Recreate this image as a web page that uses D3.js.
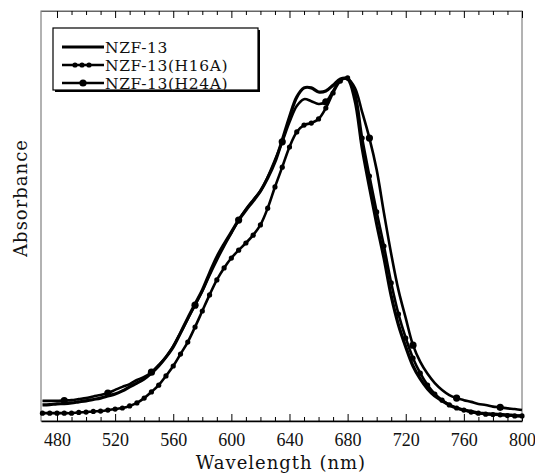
<!DOCTYPE html>
<html>
<head>
<meta charset="utf-8">
<script src="https://cdn.jsdelivr.net/npm/d3@7"></script>
<style>
  body { margin: 0; background: #fff; }
  text { font-family: "DejaVu Serif", "Liberation Serif", serif; fill: #111; }
</style>
</head>
<body>
<svg id="chart"></svg>
<script>
// wavelengths (nm), 470..800 every 5 nm
const wavelengths = d3.range(470, 801, 5);

const nzf13 = [0.047, 0.048, 0.050, 0.051, 0.053, 0.056, 0.059, 0.063, 0.067, 0.073,
  0.079, 0.088, 0.100, 0.111, 0.123, 0.140, 0.161, 0.187, 0.217, 0.258,
  0.301, 0.342, 0.383, 0.433, 0.480, 0.518, 0.553, 0.588, 0.617, 0.644,
  0.673, 0.711, 0.758, 0.822, 0.890, 0.948, 0.975, 0.975, 0.963, 0.966,
  0.983, 1.001, 1.001, 0.939, 0.799, 0.685, 0.577, 0.477, 0.366, 0.281,
  0.217, 0.161, 0.123, 0.094, 0.073, 0.059, 0.047, 0.038, 0.032, 0.028,
  0.023, 0.022, 0.020, 0.019, 0.018, 0.016, 0.015];

const h16a = [0.023, 0.023, 0.023, 0.023, 0.023, 0.025, 0.026, 0.028, 0.029, 0.032,
  0.035, 0.038, 0.044, 0.053, 0.067, 0.085, 0.105, 0.132, 0.161, 0.196,
  0.231, 0.275, 0.322, 0.369, 0.413, 0.448, 0.477, 0.500, 0.521, 0.544,
  0.574, 0.623, 0.685, 0.743, 0.802, 0.846, 0.866, 0.872, 0.884, 0.916,
  0.960, 0.995, 1.004, 0.960, 0.828, 0.717, 0.612, 0.512, 0.404, 0.313,
  0.243, 0.184, 0.140, 0.105, 0.079, 0.061, 0.047, 0.038, 0.032, 0.026,
  0.023, 0.020, 0.019, 0.018, 0.016, 0.015, 0.015];

const h24a = [0.059, 0.059, 0.059, 0.060, 0.061, 0.064, 0.067, 0.072, 0.076, 0.082,
  0.091, 0.100, 0.108, 0.120, 0.129, 0.143, 0.164, 0.187, 0.219, 0.258,
  0.299, 0.339, 0.380, 0.427, 0.471, 0.512, 0.550, 0.588, 0.620, 0.647,
  0.673, 0.714, 0.764, 0.817, 0.875, 0.922, 0.942, 0.936, 0.928, 0.934,
  0.966, 0.998, 1.001, 0.975, 0.904, 0.828, 0.735, 0.609, 0.489, 0.383,
  0.301, 0.222, 0.173, 0.138, 0.111, 0.091, 0.076, 0.067, 0.061, 0.056,
  0.050, 0.047, 0.042, 0.040, 0.037, 0.035, 0.032];

const seriesNames = ["NZF-13", "NZF-13(H16A)", "NZF-13(H24A)"];
const xTicks = [480, 520, 560, 600, 640, 680, 720, 760, 800];

const width = 535, height = 475;
const margin = { top: 11, right: 13, bottom: 54, left: 41 };

const svg = d3.select("#chart")
    .attr("width", width)
    .attr("height", height);

const x = d3.scaleLinear()
    .domain([469, 800])
    .range([margin.left, width - margin.right]);

const y = d3.scaleLinear()
    .domain([0, 1.2])
    .range([height - margin.bottom, margin.top]);

// frame
svg.append("rect")
    .attr("x", margin.left)
    .attr("y", margin.top)
    .attr("width", x.range()[1] - x.range()[0])
    .attr("height", y.range()[0] - y.range()[1])
    .attr("fill", "none")
    .attr("stroke", "#666")
    .attr("stroke-width", 1);

const minorTicks = d3.range(480, 800, 10).filter(d => !xTicks.includes(d));

// bottom axis, ticks pointing inward
const xAxis = svg.append("g")
    .attr("transform", `translate(0,${y(0)})`)
    .call(d3.axisBottom(x).tickValues(xTicks).tickSize(-7).tickPadding(12).tickSizeOuter(0));
xAxis.attr("font-size", null).attr("font-family", null);
xAxis.select(".domain").attr("stroke", "#000").attr("stroke-width", 1.5);
xAxis.selectAll("text")
    .attr("font-family", "Liberation Serif, serif")
    .attr("font-size", 18)
    .style("font-family", "'Liberation Serif', serif")
    .style("font-size", "18px")
    .attr("fill", "#111");

svg.append("g")
    .attr("transform", `translate(0,${y(0)})`)
    .call(d3.axisBottom(x).tickValues(minorTicks).tickSize(-4).tickFormat("").tickSizeOuter(0))
    .select(".domain").remove();

// top axis mirror ticks
const xTop = svg.append("g")
    .attr("transform", `translate(0,${y(1.2)})`)
    .call(d3.axisTop(x).tickValues(xTicks).tickSize(-7).tickFormat("").tickSizeOuter(0));
xTop.select(".domain").attr("stroke", "#666");
svg.append("g")
    .attr("transform", `translate(0,${y(1.2)})`)
    .call(d3.axisTop(x).tickValues(minorTicks).tickSize(-4).tickFormat("").tickSizeOuter(0))
    .select(".domain").remove();

// axis titles
svg.append("text")
    .attr("x", 281)
    .attr("y", 469)
    .attr("text-anchor", "middle")
    .style("font-size", "18px")
    .style("letter-spacing", "1px")
    .text("Wavelength (nm)");

svg.append("text")
    .attr("transform", "rotate(-90)")
    .attr("x", -198)
    .attr("y", 27)
    .attr("text-anchor", "middle")
    .style("font-size", "18px")
    .style("letter-spacing", "1px")
    .text("Absorbance");

// curves
const line = d3.line()
    .x((d, i) => x(wavelengths[i]))
    .y(d => y(d))
    .curve(d3.curveCatmullRom);

const plot = svg.append("g");

plot.append("path").datum(h24a)
    .attr("d", line).attr("fill", "none").attr("stroke", "#000").attr("stroke-width", 2.6);
plot.append("path").datum(h16a)
    .attr("d", line).attr("fill", "none").attr("stroke", "#000").attr("stroke-width", 2.6);
plot.append("path").datum(nzf13)
    .attr("d", line).attr("fill", "none").attr("stroke", "#000").attr("stroke-width", 3.2);

// dense dots on H16A
plot.selectAll(".dot16")
    .data(h16a)
    .enter().append("circle")
    .attr("cx", (d, i) => x(wavelengths[i]))
    .attr("cy", d => y(d))
    .attr("r", 2.6)
    .attr("fill", "#000");

// sparse markers on H24A
plot.selectAll(".dot24")
    .data(h24a.map((v, i) => [wavelengths[i], v]).filter(d => (d[0] - 485) % 30 === 0))
    .enter().append("circle")
    .attr("cx", d => x(d[0]))
    .attr("cy", d => y(d[1]))
    .attr("r", 3.6)
    .attr("fill", "#000");

// legend
const lg = svg.append("g").attr("transform", "translate(53,28)");
lg.append("rect").attr("x", 2).attr("y", 2).attr("width", 205).attr("height", 62).attr("fill", "#000");
lg.append("rect").attr("x", 0).attr("y", 0).attr("width", 205).attr("height", 62)
    .attr("fill", "#fff").attr("stroke", "#000").attr("stroke-width", 1.2);

const rows = lg.selectAll(".row")
    .data(seriesNames)
    .enter().append("g")
    .attr("transform", (d, i) => `translate(0,${19 + i * 18})`);

rows.append("line")
    .attr("x1", 9).attr("x2", 51).attr("y1", 0).attr("y2", 0)
    .attr("stroke", "#000")
    .attr("stroke-width", (d, i) => i === 0 ? 3.2 : 2.6);

rows.filter((d, i) => i === 1).selectAll("circle")
    .data([22, 29, 36])
    .enter().append("circle")
    .attr("cx", d => d).attr("cy", 0).attr("r", 2.6).attr("fill", "#000");

rows.filter((d, i) => i === 2).append("circle")
    .attr("cx", 30).attr("cy", 0).attr("r", 3.6).attr("fill", "#000");

rows.append("text")
    .attr("x", 52)
    .attr("y", 5.5)
    .style("font-size", "15.5px")
    .style("letter-spacing", "0.6px")
    .text(d => d);
</script>
</body>
</html>
